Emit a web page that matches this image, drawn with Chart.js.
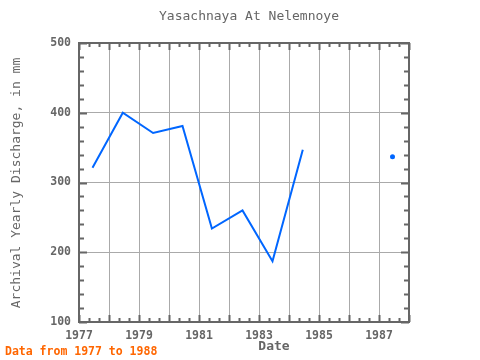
<!DOCTYPE html>
<html>
<head>
<meta charset="utf-8">
<script src="https://cdn.jsdelivr.net/npm/chart.js@4/dist/chart.umd.min.js"></script>
<style>
    html, body { margin: 0; padding: 0; background: #fff; }
    #wrap { width: 480px; height: 360px; }
</style>
</head>
<body>
<div id="wrap"><canvas id="chart" width="480" height="360"></canvas></div>
<script>
// values
const years = [1977.45, 1978.46, 1979.47, 1980.45, 1981.43, 1982.45, 1983.45, 1984.46, 1985.45, 1986.45, 1987.45];
const discharge = [321, 400, 371, 381, 234, 260, 187, 347, null, null, 337];
const xTickLabels = ["1977", "1979", "1981", "1983", "1985", "1987"];
const yTicks = [100, 200, 300, 400, 500];

const mono = "'DejaVu Sans Mono', monospace";
const textGray = "#666";

// title, axis titles, footer, frame and inward tick marks
const decorPlugin = {
    id: "decor",
    afterDraw(chart) {
        let ctx = chart.ctx;
        let a = chart.chartArea;
        let xs = chart.scales.x;
        let ys = chart.scales.y;
        ctx.save();

        ctx.strokeStyle = "#666";
        ctx.lineWidth = 2;
        for (let v = xs.min; v <= xs.max + 0.001; v += 1 / 3) {
            let px = Math.round(xs.getPixelForValue(v)) + 0.5;
            let major = Math.abs(v - Math.round(v)) < 0.01;
            let len = major ? 7 : 4;
            ctx.beginPath();
            ctx.moveTo(px, a.top); ctx.lineTo(px, a.top + len);
            ctx.moveTo(px, a.bottom); ctx.lineTo(px, a.bottom - len);
            ctx.stroke();
        }
        for (let v = ys.min; v <= ys.max; v += 20) {
            let py = Math.round(ys.getPixelForValue(v)) + 0.5;
            let len = v % 100 === 0 ? 8 : 5;
            ctx.beginPath();
            ctx.moveTo(a.left, py); ctx.lineTo(a.left + len, py);
            ctx.moveTo(a.right, py); ctx.lineTo(a.right - len, py);
            ctx.stroke();
        }
        ctx.strokeRect(a.left, a.top, a.right - a.left, a.bottom - a.top);

        ctx.fillStyle = textGray;
        ctx.textAlign = "center";
        ctx.textBaseline = "middle";
        ctx.font = "13px " + mono;
        ctx.fillText("Yasachnaya At Nelemnoye", 249, 17);
        ctx.font = "bold 13px " + mono;
        ctx.fillText("Date", 274, 347);

        ctx.save();
        ctx.translate(17, 183);
        ctx.rotate(-Math.PI / 2);
        ctx.font = "13px " + mono;
        ctx.fillText("Archival Yearly Discharge, in mm", 0, 0);
        ctx.restore();

        ctx.fillStyle = "#ff6600";
        ctx.textAlign = "left";
        ctx.font = "bold 11.5px " + mono;
        ctx.fillText("Data from 1977 to 1988", 5, 352);
        ctx.restore();
    }
};

let points = years.map((yr, i) => ({ x: yr, y: discharge[i] }));

function isolated(i) {
    if (discharge[i] === null) return false;
    let prev = i > 0 ? discharge[i - 1] : null;
    let next = i < discharge.length - 1 ? discharge[i + 1] : null;
    return prev === null && next === null;
}

new Chart(document.getElementById("chart"), {
    type: "line",
    data: {
        datasets: [{
            data: points,
            borderColor: "#0066ff",
            backgroundColor: "#0066ff",
            borderWidth: 2,
            spanGaps: false,
            tension: 0,
            pointRadius: ctx => isolated(ctx.dataIndex) ? 2.5 : 0,
            pointHoverRadius: 0,
            pointBorderWidth: 0
        }]
    },
    options: {
        responsive: false,
        animation: false,
        layout: { padding: { top: 43, right: 71, left: 0, bottom: 0 } },
        plugins: {
            legend: { display: false },
            title: { display: false },
            tooltip: { enabled: false }
        },
        scales: {
            x: {
                type: "linear",
                min: 1977,
                max: 1988,
                afterFit: s => { s.height = 38; },
                afterBuildTicks: s => {
                    s.ticks = [];
                    for (let y = 1977; y <= 1988; y++) s.ticks.push({ value: y });
                },
                ticks: {
                    color: textGray,
                    font: { family: mono, size: 11.5, weight: "bold" },
                    padding: 7,
                    maxRotation: 0,
                    autoSkip: false,
                    callback: v => xTickLabels.includes(String(v)) ? String(v) : ""
                },
                grid: { color: "#aaa", lineWidth: 1, drawTicks: false },
                border: { display: false }
            },
            y: {
                min: 100,
                max: 500,
                afterFit: s => { s.width = 79; },
                afterBuildTicks: s => { s.ticks = yTicks.map(v => ({ value: v })); },
                ticks: {
                    color: textGray,
                    font: { family: mono, size: 11.5, weight: "bold" },
                    padding: 8
                },
                grid: { color: "#aaa", lineWidth: 1, drawTicks: false },
                border: { display: false }
            }
        }
    },
    plugins: [decorPlugin]
});
</script>
</body>
</html>
